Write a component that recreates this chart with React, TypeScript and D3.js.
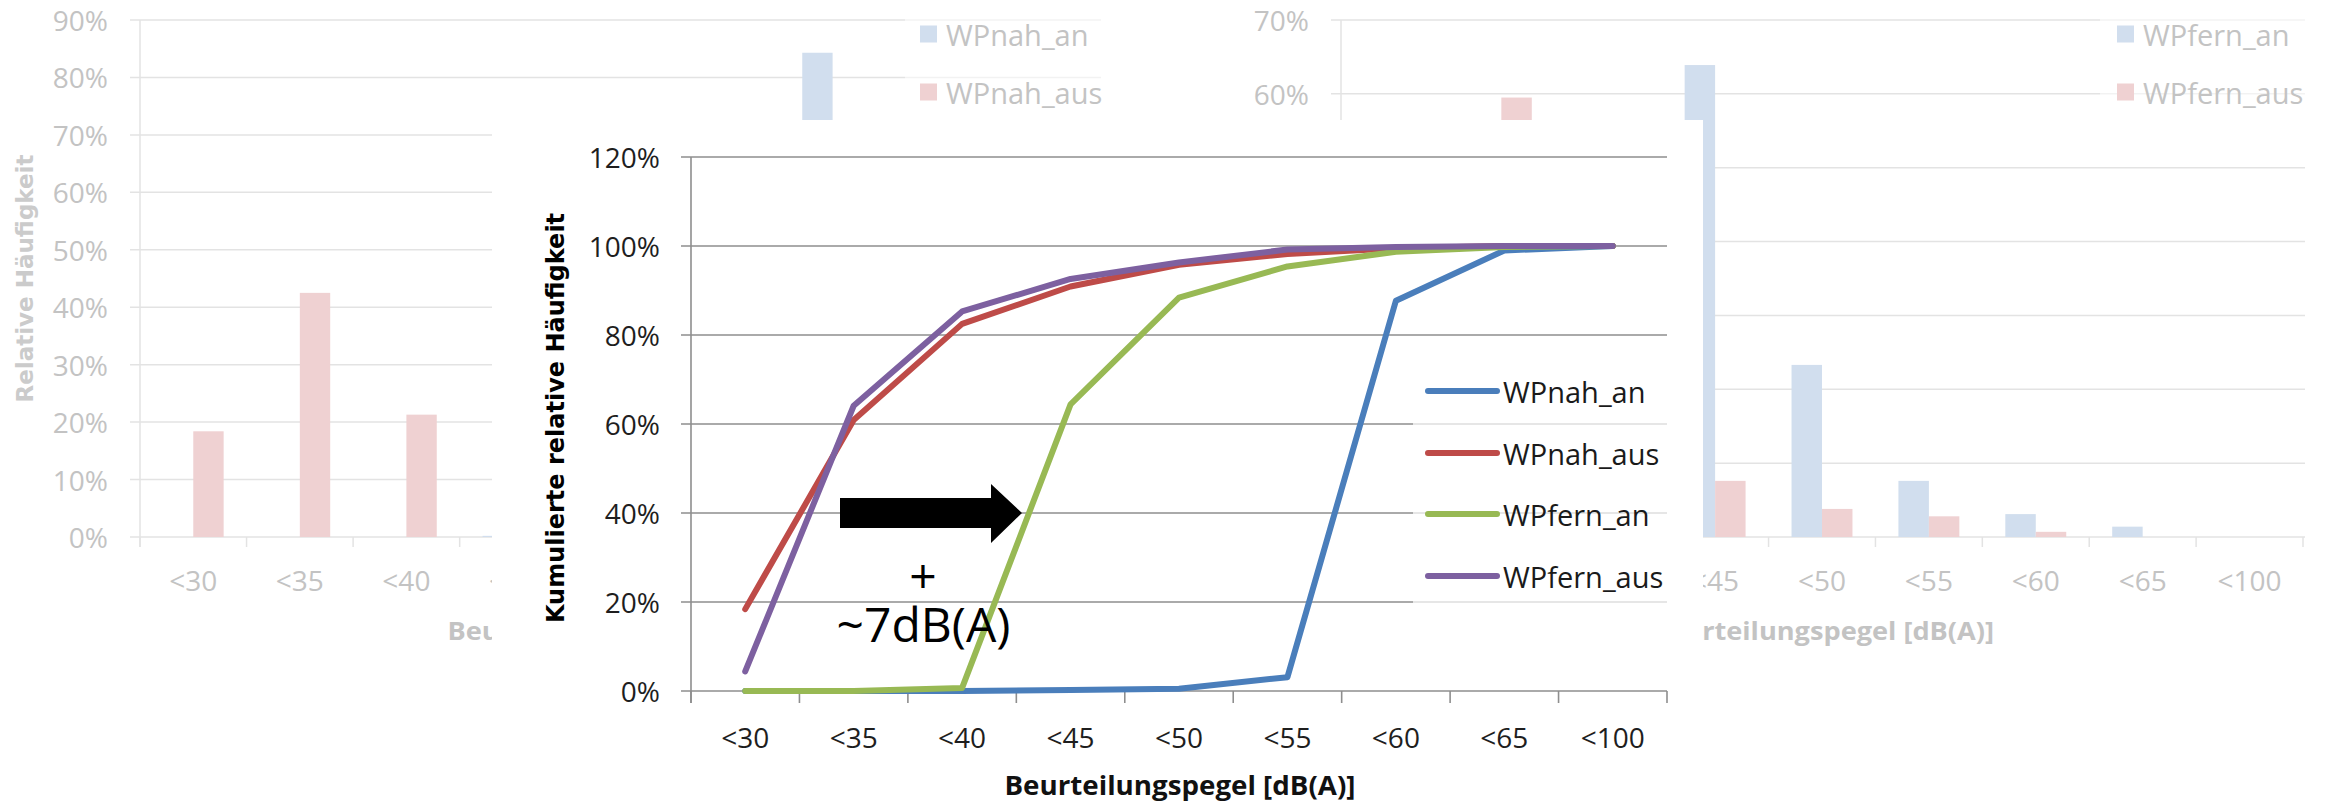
import React from 'react';
import * as d3 from 'd3';

// Level classes of the rating level
const categories = ['<30', '<35', '<40', '<45', '<50', '<55', '<60', '<65', '<100'];

// Relative frequencies per class, in percent
const nahAnRel = [0, 0, 0, 0.2, 0.3, 2.5, 84.3, 11.5, 1.0];
const nahAusRel = [18.4, 42.5, 21.3, 8.5, 4.9, 2.4, 1.3, 0.5, 0.2];
const fernAnRel = [0, 0, 0.7, 63.9, 23.3, 7.6, 3.1, 1.4, 0];
const fernAusRel = [4.4, 59.5, 21.2, 7.6, 3.8, 2.8, 0.7, 0, 0];

// Cumulative relative frequencies, in percent
const nahAnCum = [0, 0, 0, 0.2, 0.5, 3.1, 87.7, 99.0, 100];
const nahAusCum = [18.4, 60.9, 82.5, 90.9, 95.8, 98.2, 99.5, 100, 100];
const fernAnCum = [0, 0, 0.7, 64.4, 88.4, 95.4, 98.7, 99.8, 100];
const fernAusCum = [4.4, 64.1, 85.3, 92.6, 96.3, 99.2, 99.8, 100, 100];

const nahTicks = [0, 10, 20, 30, 40, 50, 60, 70, 80, 90];
const fernTicks = [0, 10, 20, 30, 40, 50, 60, 70];
const cumTicks = [0, 20, 40, 60, 80, 100, 120];

const xTitle = 'Beurteilungspegel [dB(A)]';
const W = 2333;
const H = 805;

const SANS = "'Open Sans', 'Noto Sans', sans-serif";
const WIDE = "'DejaVu Sans', 'Verdana', sans-serif";

const FADED_BLUE = '#d1deee';
const FADED_RED = '#efd1d2';
const FADED_TEXT = '#c3c3c3';
const FADED_GRID = '#e3e3e3';

// White panel of the cumulative chart, laid over the two histograms
const PANEL = { x: 492, y: 120, w: 1211, h: H - 120 };

// true when a label lies completely underneath the panel
const underPanel = (cx: number, cy: number, halfW: number) =>
  cy > PANEL.y + 14 && cx - halfW >= PANEL.x && cx + halfW <= PANEL.x + PANEL.w;

type BarSeries = { name: string; values: number[]; color: string };

type HistProps = {
  left: number;
  right: number;
  top: number;
  bottom: number;
  max: number;
  ticks: number[];
  series: BarSeries[];
  legendX: number;
  legendBgX: number;
  legendBgW: number;
  yTitleX: number;
};

function Histogram(p: HistProps) {
  const x = d3.scaleBand<string>().domain(categories).range([p.left, p.right]);
  const y = d3.scaleLinear().domain([0, p.max]).range([p.bottom, p.top]);
  const bw = x.bandwidth();
  const inner = d3
    .scaleBand<string>()
    .domain(p.series.map((s) => s.name))
    .range([bw / 2 - bw * 0.285, bw / 2 + bw * 0.285]);
  const boundaries = d3.range(categories.length + 1).map((i) => p.left + i * bw);
  const topY = y(p.ticks[p.ticks.length - 1]);
  const legendRows = [topY + 14, topY + 72];
  const labelY = p.bottom + 43;
  const titleX = (p.left + p.right) / 2;
  const titleY = p.bottom + 93;
  const yTitleY = (p.top + p.bottom) / 2;

  return (
    <g>
      {p.ticks.map((t) => (
        <g key={t}>
          <line x1={p.left - 10} x2={p.right + 2} y1={y(t)} y2={y(t)} stroke={FADED_GRID} strokeWidth={1.5} />
          {!underPanel(p.left - 60, y(t), 28) && (
            <text
              x={p.left - 32}
              y={y(t)}
              textAnchor="end"
              dominantBaseline="central"
              fontFamily={SANS}
              fontSize={28}
              fill={FADED_TEXT}
            >
              {t}%
            </text>
          )}
        </g>
      ))}
      <line x1={p.left} x2={p.left} y1={p.top} y2={p.bottom + 10} stroke={FADED_GRID} strokeWidth={1.5} />
      {boundaries.map((b, i) => (
        <line key={i} x1={b} x2={b} y1={p.bottom} y2={p.bottom + 10} stroke={FADED_GRID} strokeWidth={1.5} />
      ))}
      {p.series.map((s) =>
        s.values.map((v, i) =>
          v > 0 ? (
            <rect
              key={s.name + i}
              x={x(categories[i])! + inner(s.name)!}
              y={y(v)}
              width={inner.bandwidth()}
              height={p.bottom - y(v)}
              fill={s.color}
            />
          ) : null
        )
      )}
      {categories.map((c) =>
        underPanel(x(c)! + bw / 2, labelY, 24) ? null : (
          <text
            key={c}
            x={x(c)! + bw / 2}
            y={labelY}
            textAnchor="middle"
            dominantBaseline="central"
            fontFamily={SANS}
            fontSize={28}
            fill={FADED_TEXT}
          >
            {c}
          </text>
        )
      )}
      <text
        x={titleX}
        y={titleY}
        textAnchor="middle"
        dominantBaseline="central"
        fontFamily={SANS}
        fontWeight="bold"
        fontSize={25}
        fill={FADED_TEXT}
        textLength={344}
        lengthAdjust="spacingAndGlyphs"
      >
        {xTitle}
      </text>
      {!underPanel(p.yTitleX, yTitleY, 12) && (
        <text
          transform={`translate(${p.yTitleX},${yTitleY}) rotate(-90)`}
          textAnchor="middle"
          dominantBaseline="central"
          fontFamily={WIDE}
          fontWeight="bold"
          fontSize={23}
          fill="#cbcbcb"
        >
          Relative Häufigkeit
        </text>
      )}
      <rect x={p.legendBgX} y={0} width={p.legendBgW} height={112} fill="#fff" fillOpacity={0.55} />
      {p.series.map((s, i) => (
        <g key={s.name}>
          <rect x={p.legendX} y={legendRows[i] - 8.5} width={17} height={17} fill={s.color} />
          <text
            x={p.legendX + 26}
            y={legendRows[i]}
            dominantBaseline="central"
            fontFamily={SANS}
            fontSize={29}
            fill={FADED_TEXT}
          >
            {s.name}
          </text>
        </g>
      ))}
    </g>
  );
}

type LineSeries = { name: string; values: number[]; color: string };

const cumSeries: LineSeries[] = [
  { name: 'WPnah_an', values: nahAnCum, color: '#4a7ebb' },
  { name: 'WPnah_aus', values: nahAusCum, color: '#be4b48' },
  { name: 'WPfern_an', values: fernAnCum, color: '#98b954' },
  { name: 'WPfern_aus', values: fernAusCum, color: '#7d60a0' },
];

function Cumulative() {
  const left = 691;
  const right = 1667;
  const x = d3.scaleBand<string>().domain(categories).range([left, right]);
  const y = d3.scaleLinear().domain([0, 120]).range([691, 157]);
  const bw = x.bandwidth();
  const cx = (i: number) => x(categories[i])! + bw / 2;
  const line = d3
    .line<number>()
    .x((_, i) => cx(i))
    .y((v) => y(v));
  const boundaries = d3.range(categories.length + 1).map((i) => left + i * bw);
  const legendX = 1428;
  const legendRows = [391, 453, 514, 576];
  const gridColor = '#8e8e8e';
  const arrowY = y(40);

  return (
    <g>
      <rect x={PANEL.x} y={PANEL.y} width={PANEL.w} height={PANEL.h} fill="#fff" />
      {cumTicks.map((t) => (
        <g key={t}>
          <line x1={left - 10} x2={right} y1={y(t)} y2={y(t)} stroke={gridColor} strokeWidth={1.6} />
          <text
            x={left - 31}
            y={y(t)}
            textAnchor="end"
            dominantBaseline="central"
            fontFamily={SANS}
            fontSize={28}
            fill="#1e1e1e"
          >
            {t}%
          </text>
        </g>
      ))}
      <line x1={left} x2={left} y1={y(120)} y2={y(0) + 12} stroke={gridColor} strokeWidth={1.6} />
      {boundaries.map((b, i) => (
        <line key={i} x1={b} x2={b} y1={y(0)} y2={y(0) + 12} stroke={gridColor} strokeWidth={1.6} />
      ))}
      {categories.map((c) => (
        <text
          key={c}
          x={x(c)! + bw / 2}
          y={737}
          textAnchor="middle"
          dominantBaseline="central"
          fontFamily={SANS}
          fontSize={28}
          fill="#1e1e1e"
        >
          {c}
        </text>
      ))}
      <text
        x={1180}
        y={795}
        textAnchor="middle"
        fontFamily={SANS}
        fontWeight="bold"
        fontSize={27}
        fill="#111"
        textLength={351}
        lengthAdjust="spacingAndGlyphs"
      >
        {xTitle}
      </text>
      <text
        transform={`translate(556,418) rotate(-90)`}
        textAnchor="middle"
        dominantBaseline="central"
        fontFamily={WIDE}
        fontWeight="bold"
        fontSize={24}
        fill="#000"
      >
        Kumulierte relative Häufigkeit
      </text>

      {/* legend box sits over the grid, which shows through faintly */}
      <rect x={1413} y={355} width={254} height={258} fill="#fff" fillOpacity={0.7} />

      {cumSeries.map((s) => (
        <path
          key={s.name}
          d={line(s.values)!}
          fill="none"
          stroke={s.color}
          strokeWidth={6}
          strokeLinejoin="round"
          strokeLinecap="round"
        />
      ))}

      {cumSeries.map((s, i) => (
        <g key={s.name}>
          <line
            x1={legendX}
            x2={legendX + 69}
            y1={legendRows[i]}
            y2={legendRows[i]}
            stroke={s.color}
            strokeWidth={6}
            strokeLinecap="round"
          />
          <text
            x={legendX + 75}
            y={legendRows[i]}
            dominantBaseline="central"
            fontFamily={SANS}
            fontSize={29}
            fill="#1a1a1a"
          >
            {s.name}
          </text>
        </g>
      ))}

      {/* shift annotation between the two WP_an curves */}
      <path
        d={`M840,${arrowY - 15} H991 V${arrowY - 29} L1022,${arrowY} L991,${arrowY + 30} V${arrowY + 15} H840 Z`}
        fill="#000"
      />
      <text textAnchor="middle" fontFamily={SANS} fontSize={48} fill="#000">
        <tspan x={923} y={593}>
          +
        </tspan>
        <tspan x={923.5} y={642}>
          ~7dB(A)
        </tspan>
      </text>
    </g>
  );
}

export default function App() {
  const nahSeries: BarSeries[] = [
    { name: 'WPnah_an', values: nahAnRel, color: FADED_BLUE },
    { name: 'WPnah_aus', values: nahAusRel, color: FADED_RED },
  ];
  const fernSeries: BarSeries[] = [
    { name: 'WPfern_an', values: fernAnRel, color: FADED_BLUE },
    { name: 'WPfern_aus', values: fernAusRel, color: FADED_RED },
  ];
  return (
    <svg
      width={W}
      height={H}
      viewBox={`0 0 ${W} ${H}`}
      style={{ position: 'absolute', left: 0, top: 0, background: '#fff' }}
    >
      <rect width={W} height={H} fill="#fff" />
      <Histogram
        left={140}
        right={1099}
        top={20}
        bottom={537}
        max={90}
        ticks={nahTicks}
        series={nahSeries}
        legendX={920}
        legendBgX={905}
        legendBgW={196}
        yTitleX={25}
      />
      <Histogram
        left={1341}
        right={2303}
        top={20}
        bottom={537}
        max={70}
        ticks={fernTicks}
        series={fernSeries}
        legendX={2117}
        legendBgX={2100}
        legendBgW={206}
        yTitleX={1226}
      />
      <Cumulative />
    </svg>
  );
}
